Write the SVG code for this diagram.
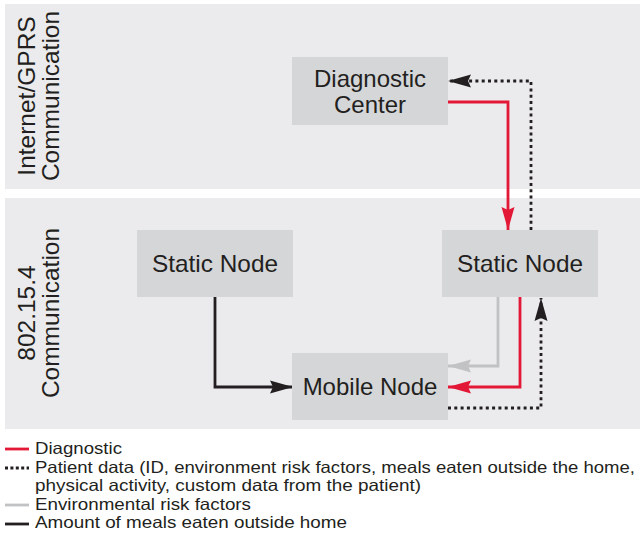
<svg xmlns="http://www.w3.org/2000/svg" width="640" height="535" viewBox="0 0 640 535">
<defs>
<style>
.band{fill:#ebebed}
.node{fill:#d5d6d8}
.t{font-family:"Liberation Sans",Arial,sans-serif;fill:#231f20}
.nt{font-size:24px;text-anchor:middle}
.lt{font-size:24.5px;text-anchor:middle}
.lg{font-size:16.5px}
.c{fill:none;stroke-width:2.8}
.red{stroke:#e31837}
.gray{stroke:#c1c2c4}
.blk{stroke:#231f20}
.dot{stroke:#231f20;stroke-dasharray:3 3.3}
</style>
<marker id="aR" markerWidth="23" markerHeight="14" refX="23" refY="7" orient="auto" markerUnits="userSpaceOnUse"><path d="M0,0.5 L23,7 L0,13.5 L3,7 Z" fill="#e31837"/></marker>
<marker id="aG" markerWidth="23" markerHeight="14" refX="23" refY="7" orient="auto" markerUnits="userSpaceOnUse"><path d="M0,0.5 L23,7 L0,13.5 L3,7 Z" fill="#c1c2c4"/></marker>
<marker id="aK" markerWidth="23" markerHeight="14" refX="23" refY="7" orient="auto" markerUnits="userSpaceOnUse"><path d="M0,0.5 L23,7 L0,13.5 L3,7 Z" fill="#231f20"/></marker>
</defs>
<rect width="640" height="535" fill="#ffffff"/>
<g id="band-internet">
<rect class="band" x="5" y="4" width="635" height="185"/>
<text class="t lt" transform="translate(35,96) rotate(-90)">Internet/GPRS</text>
<text class="t lt" transform="translate(59,96) rotate(-90)">Communication</text>
</g>
<g id="band-802">
<rect class="band" x="5" y="198" width="635" height="231"/>
<text class="t lt" transform="translate(35,313) rotate(-90)">802.15.4</text>
<text class="t lt" transform="translate(59,313) rotate(-90)">Communication</text>
</g>
<g id="connectors">
<polyline class="c red" points="448,102 508,102 508,230" marker-end="url(#aR)"/>
<polyline class="c dot" points="531,230 531,81 448,81" marker-end="url(#aK)"/>
<polyline class="c blk" points="215,297 215,387 293,387" marker-end="url(#aK)"/>
<polyline class="c gray" points="498,297 498,366 448,366" marker-end="url(#aG)"/>
<polyline class="c red" points="520,297 520,387 448,387" marker-end="url(#aR)"/>
<polyline class="c dot" points="448,408 541,408 541,298" marker-end="url(#aK)"/>
</g>
<g id="node-diagnostic-center">
<rect class="node" x="292" y="57" width="156" height="68"/>
<text class="t nt" x="370" y="87">Diagnostic</text>
<text class="t nt" x="370" y="113">Center</text>
</g>
<g id="node-static-left">
<rect class="node" x="137" y="230" width="156" height="67"/>
<text class="t nt" x="215" y="272" textLength="126" lengthAdjust="spacingAndGlyphs">Static Node</text>
</g>
<g id="node-static-right">
<rect class="node" x="442" y="230" width="156" height="67"/>
<text class="t nt" x="520" y="272" textLength="126" lengthAdjust="spacingAndGlyphs">Static Node</text>
</g>
<g id="node-mobile">
<rect class="node" x="292" y="353" width="156" height="67"/>
<text class="t nt" x="370" y="395">Mobile Node</text>
</g>
<g id="legend">
<line x1="5" y1="449" x2="29" y2="449" stroke="#e31837" stroke-width="2.8"/>
<text class="t lg" x="35" y="454" textLength="87" lengthAdjust="spacingAndGlyphs">Diagnostic</text>
<line x1="5" y1="468" x2="29" y2="468" stroke="#231f20" stroke-width="2.8" stroke-dasharray="3 2.4"/>
<text class="t lg" x="35" y="473" textLength="600" lengthAdjust="spacingAndGlyphs">Patient data (ID, environment risk factors, meals eaten outside the home,</text>
<text class="t lg" x="35" y="491" textLength="386" lengthAdjust="spacingAndGlyphs">physical activity, custom data from the patient)</text>
<line x1="5" y1="505" x2="29" y2="505" stroke="#c1c2c4" stroke-width="2.8"/>
<text class="t lg" x="35" y="510" textLength="216" lengthAdjust="spacingAndGlyphs">Environmental risk factors</text>
<line x1="5" y1="524" x2="29" y2="524" stroke="#231f20" stroke-width="2.8"/>
<text class="t lg" x="35" y="528" textLength="312" lengthAdjust="spacingAndGlyphs">Amount of meals eaten outside home</text>
</g>
</svg>
